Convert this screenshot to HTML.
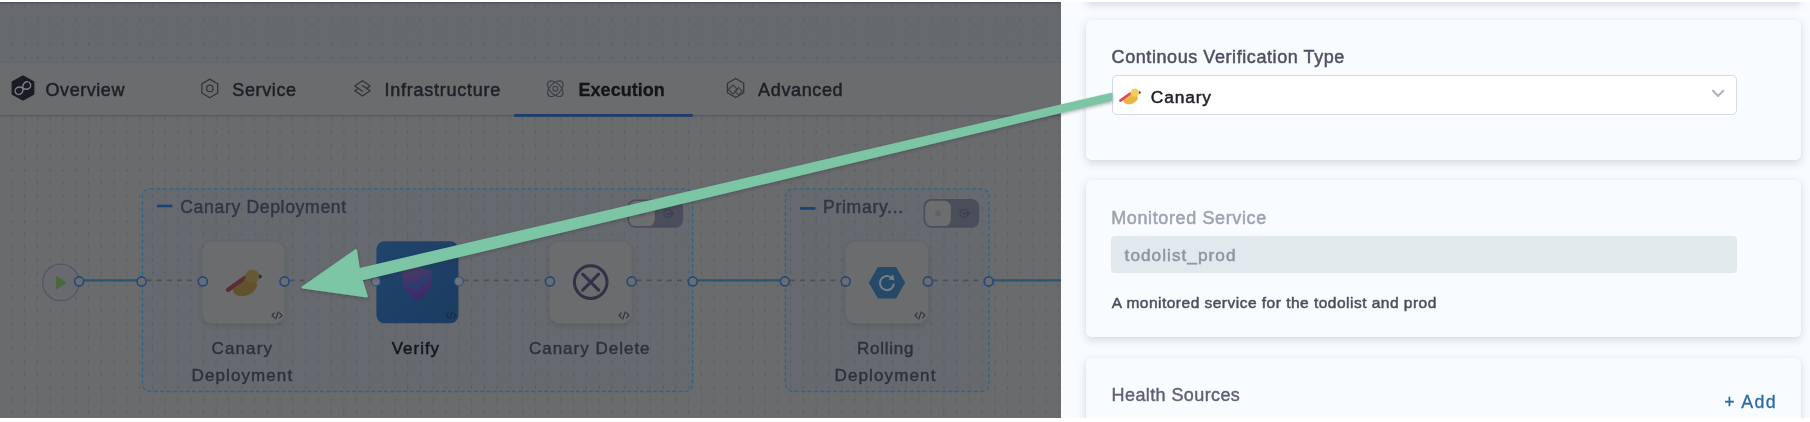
<!DOCTYPE html>
<html><head><meta charset="utf-8">
<style>
*{margin:0;padding:0;box-sizing:border-box}
html,body{width:1810px;height:422px;overflow:hidden;background:#fff;font-family:"Liberation Sans",sans-serif}
#canvas{position:absolute;left:0;top:2px;width:1061px;height:416px;background:#676a6d;overflow:hidden}
#topsh{position:absolute;left:0;top:0;width:1061px;height:2.5px;background:linear-gradient(rgba(40,44,50,.38),rgba(40,44,50,0))}
#lower{position:absolute;left:0;top:112px;width:1061px;height:304px;background:#6a6b6d}
#dots1{position:absolute;left:0;top:0;width:1061px;height:61px;
 background-image:radial-gradient(ellipse 1px 1px at center,rgba(66,70,78,.55) 0.5px,transparent 1.1px);background-size:12.77px 12.757px;background-position:5.6px -2px}
#grid{position:absolute;left:0;top:113px;width:1061px;height:303px;
 background-image:radial-gradient(ellipse 1px 1.7px at center,rgba(72,78,90,.42) 0.5px,transparent 1.2px),linear-gradient(90deg,transparent 5.75px,rgba(88,96,110,.17) 5.75px,rgba(88,96,110,.17) 7.05px,transparent 7.05px);
 background-size:12.77px 12.75px,12.77px 12.75px;background-position:5.6px -1.8px,5.6px 0}
#tabbar{position:absolute;left:0;top:60.5px;width:1061px;height:52px;background:#6b6c6e;box-shadow:0 1px 2px rgba(40,44,50,.35)}
.t{position:absolute;white-space:nowrap;line-height:1;color:#24262f}
#panel{position:absolute;left:1061px;top:2px;width:749px;height:416px;background:#f8fcff;overflow:hidden}
.card{position:absolute;left:25px;width:715px;background:#f8fcff;border-radius:5px;box-shadow:0 0 1px rgba(40,41,61,.08),0 3px 8px rgba(96,97,112,.22)}
svg{position:absolute;left:0;top:0}
</style></head><body>
<div id="canvas">
 <div id="dots1"></div>
 <div id="topsh"></div>
 <div id="lower"></div>
 <div id="grid"></div>
 <div id="tabbar"></div>
</div>
<div id="panel">
 <div class="card" style="top:-30px;height:30px"></div>
 <div class="card" style="top:18px;height:140px"></div>
 <div class="card" style="top:178px;height:157px"></div>
 <div class="card" style="top:356px;height:100px"></div>
 <div id="sel" style="position:absolute;left:51px;top:73.2px;width:625.4px;height:39.6px;background:#fff;border:1.3px solid #d7d8e6;border-radius:5px"></div>
 <div id="dis" style="position:absolute;left:50.3px;top:233.9px;width:626px;height:37.6px;background:#e2e9ed;border-radius:4px"></div>
</div>
<svg id="ov" width="1810" height="422" viewBox="0 0 1810 422">
<defs>
<filter id="ns" x="-20%" y="-20%" width="140%" height="150%"><feDropShadow dx="0" dy="2" stdDeviation="2.5" flood-color="#33373d" flood-opacity=".28"/></filter>
<filter id="as" x="-5%" y="-10%" width="110%" height="130%"><feDropShadow dx="0" dy="1.5" stdDeviation="1.5" flood-color="#2a2e33" flood-opacity=".35"/></filter>
<linearGradient id="vg" x1="0" y1="0" x2="1" y2="1"><stop offset="0" stop-color="#20446c"/><stop offset="1" stop-color="#1c3c61"/></linearGradient>
<linearGradient id="sg" x1="0.3" y1="0" x2="0.6" y2="1"><stop offset="0" stop-color="#473d6a"/><stop offset="1" stop-color="#3b2869"/></linearGradient>
</defs>
<!--MAIN-->
<rect x="514.3" y="114" width="178.4" height="2.8" fill="#1c3e69"/>
<rect x="142.4" y="188.9" width="550.2" height="202.6" rx="7.5" fill="rgba(68,107,122,0.08)" stroke="#2d6682" stroke-width="1.35" stroke-dasharray="4.1 2.3"/>
<rect x="785.4" y="188.9" width="203.6" height="202.6" rx="7.5" fill="rgba(68,107,122,0.08)" stroke="#2d6682" stroke-width="1.35" stroke-dasharray="4.1 2.3"/>
<line x1="79" y1="280.3" x2="141.6" y2="280.3" stroke="#2a556c" stroke-width="2.3"/>
<line x1="146.6" y1="280.3" x2="202.8" y2="280.3" stroke="#4e5054" stroke-width="1.8" stroke-dasharray="5 5.1"/>
<line x1="289.5" y1="280.3" x2="376.5" y2="280.3" stroke="#4e5054" stroke-width="1.8" stroke-dasharray="5 5.1"/>
<line x1="463.5" y1="280.3" x2="550" y2="280.3" stroke="#4e5054" stroke-width="1.8" stroke-dasharray="5 5.1"/>
<line x1="636.6" y1="280.3" x2="692.8" y2="280.3" stroke="#4e5054" stroke-width="1.8" stroke-dasharray="5 5.1"/>
<line x1="692.8" y1="280.3" x2="785" y2="280.3" stroke="#2a556c" stroke-width="2.3"/>
<line x1="790" y1="280.3" x2="845.7" y2="280.3" stroke="#4e5054" stroke-width="1.8" stroke-dasharray="5 5.1"/>
<line x1="933" y1="280.3" x2="988.7" y2="280.3" stroke="#4e5054" stroke-width="1.8" stroke-dasharray="5 5.1"/>
<line x1="988.7" y1="280.3" x2="1061" y2="280.3" stroke="#2a556c" stroke-width="2.3"/>
<circle cx="60.9" cy="282.4" r="18.3" fill="#686a70" stroke="#555663" stroke-width="1.3"/>
<path d="M56.4 276.4 L66.4 282.7 L56.4 289 Z" fill="#48693e" stroke="#48693e" stroke-width="0.8" stroke-linejoin="round"/>
<rect x="202.4" y="241.7" width="82.2" height="81.8" rx="10" fill="#6b6c6e" filter="url(#ns)"/>
<rect x="549.5" y="241.7" width="82.2" height="81.8" rx="10" fill="#6b6c6e" filter="url(#ns)"/>
<rect x="845.7" y="241.7" width="82.2" height="81.8" rx="10" fill="#6b6c6e" filter="url(#ns)"/>
<rect x="376.4" y="241.3" width="82" height="82" rx="8" fill="url(#vg)"/>
<circle cx="79.1" cy="281.4" r="4.5" fill="#6a6c6e" stroke="#22497a" stroke-width="1.6"/>
<circle cx="141.6" cy="281.4" r="4.5" fill="#6a6c6e" stroke="#22497a" stroke-width="1.6"/>
<circle cx="202.8" cy="281.4" r="4.5" fill="#6a6c6e" stroke="#22497a" stroke-width="1.6"/>
<circle cx="284.5" cy="281.4" r="4.5" fill="#6a6c6e" stroke="#22497a" stroke-width="1.6"/>
<circle cx="550" cy="281.4" r="4.5" fill="#6a6c6e" stroke="#22497a" stroke-width="1.6"/>
<circle cx="631.6" cy="281.4" r="4.5" fill="#6a6c6e" stroke="#22497a" stroke-width="1.6"/>
<circle cx="692.8" cy="281.4" r="4.5" fill="#6a6c6e" stroke="#22497a" stroke-width="1.6"/>
<circle cx="784.9" cy="281.4" r="4.5" fill="#6a6c6e" stroke="#22497a" stroke-width="1.6"/>
<circle cx="845.7" cy="281.4" r="4.5" fill="#6a6c6e" stroke="#22497a" stroke-width="1.6"/>
<circle cx="927.9" cy="281.4" r="4.5" fill="#6a6c6e" stroke="#22497a" stroke-width="1.6"/>
<circle cx="988.7" cy="281.4" r="4.5" fill="#6a6c6e" stroke="#22497a" stroke-width="1.6"/>
<circle cx="375.8" cy="281.4" r="4.4" fill="#707376" stroke="#2c5288" stroke-width="1.2"/>
<circle cx="458.8" cy="281.4" r="4.4" fill="#707376" stroke="#2c5288" stroke-width="1.2"/>
<g stroke="#2e3038" stroke-width="1.1" fill="none" stroke-linecap="round" stroke-linejoin="round"><path d="M274.4 312.79999999999995 L272 315.4 L274.4 318.0"/><path d="M279.6 312.79999999999995 L282 315.4 L279.6 318.0"/><path d="M278.2 311.79999999999995 L275.8 319.0"/></g>
<g stroke="#16294a" stroke-width="1.1" fill="none" stroke-linecap="round" stroke-linejoin="round"><path d="M448.4 312.79999999999995 L446 315.4 L448.4 318.0"/><path d="M453.6 312.79999999999995 L456 315.4 L453.6 318.0"/><path d="M452.2 311.79999999999995 L449.8 319.0"/></g>
<g stroke="#2e3038" stroke-width="1.1" fill="none" stroke-linecap="round" stroke-linejoin="round"><path d="M621.4 312.79999999999995 L619 315.4 L621.4 318.0"/><path d="M626.6 312.79999999999995 L629 315.4 L626.6 318.0"/><path d="M625.2 311.79999999999995 L622.8 319.0"/></g>
<g stroke="#2e3038" stroke-width="1.1" fill="none" stroke-linecap="round" stroke-linejoin="round"><path d="M917.4 312.79999999999995 L915 315.4 L917.4 318.0"/><path d="M922.6 312.79999999999995 L925 315.4 L922.6 318.0"/><path d="M921.2 311.79999999999995 L918.8 319.0"/></g>
<!--/MAIN-->
<!--ICONS-->
<polygon points="23.00,76.40 33.40,82.20 33.40,93.80 23.00,99.60 12.60,93.80 12.60,82.20" fill="#1b1c23" stroke="#1b1c23" stroke-width="2" stroke-linejoin="round"/>
<g transform="translate(22.9 88.1) rotate(-33)"><path d="M0 0 C1.6 -3.6 3.3 -3.6 5 -3.6 A3.6 3.6 0 0 1 5 3.6 C3.3 3.6 1.6 3.6 0 0 C-1.6 -3.6 -3.3 -3.6 -5 -3.6 A3.6 3.6 0 0 0 -5 3.6 C-3.3 3.6 -1.6 3.6 0 0Z" fill="none" stroke="#7f8185" stroke-width="1.4"/></g>
<polygon points="209.80,79.10 217.70,83.75 217.70,93.05 209.80,97.70 201.90,93.05 201.90,83.75" fill="none" stroke="#32353d" stroke-width="1.3" stroke-linejoin="round"/>
<circle cx="209.8" cy="88.4" r="3.2" fill="none" stroke="#32353d" stroke-width="1.3"/>
<g fill="none" stroke="#32353d" stroke-width="1.3" stroke-linejoin="round" stroke-linecap="round"><path d="M366.6 88.6 L370.2 86 L362.5 80.7 L354.8 86 L362.5 91.2"/><path d="M358.4 88.2 L354.8 90.8 L362.5 96 L370.2 90.8 L362.5 85.6"/></g>
<g fill="none" stroke="#3a3d45" stroke-width="1.1" transform="translate(555.3 88.7)"><ellipse rx="9.6" ry="5.4" transform="rotate(45)"/><ellipse rx="9.6" ry="5.4" transform="rotate(-45)"/><circle r="2.4"/></g>
<polygon points="735.60,78.50 743.70,83.25 743.70,92.75 735.60,97.50 727.50,92.75 727.50,83.25" fill="none" stroke="#32353d" stroke-width="1.3" stroke-linejoin="round"/>
<g fill="none" stroke="#3a3d45" stroke-width="1.1" stroke-linejoin="round"><path d="M728.5 89.5 L733 85 L737.5 89.5 L733 94 Z"/><path d="M734.8 91.2 L738.6 87.6 L742.3 91.2 L738.6 94.8 Z"/></g>
<rect x="157" y="204.7" width="15.2" height="2.6" fill="#194173"/>
<rect x="800" y="207.1" width="15.4" height="2.6" fill="#194173"/>
<rect x="627.4" y="199.4" width="55.7" height="28.4" rx="8" fill="#4a4d5a"/>
<rect x="629.0" y="201.1" width="25.8" height="25.0" rx="6.6" fill="#6c6d6f"/>
<rect x="639.3" y="210.8" width="5.4" height="5.4" rx="1.2" fill="#606267"/>
<g fill="none" stroke="#3c3f4e" stroke-width="1.1"><circle cx="667.8" cy="213.6" r="3.9"/><path d="M668.8 213.6 h4.6 m-1.6 -1.6 l1.6 1.6 l-1.6 1.6"/></g>
<path d="M666.6 211.8 L669.6 213.6 L666.6 215.4 Z" fill="#3c3f4e"/>
<rect x="923.5" y="199.0" width="55.7" height="28.8" rx="8" fill="#4a4d5a"/>
<rect x="925.1" y="200.7" width="25.8" height="25.4" rx="6.6" fill="#6c6d6f"/>
<rect x="935.4" y="210.6" width="5.4" height="5.4" rx="1.2" fill="#606267"/>
<g fill="none" stroke="#3c3f4e" stroke-width="1.1"><circle cx="963.9" cy="213.4" r="3.9"/><path d="M964.9 213.4 h4.6 m-1.6 -1.6 l1.6 1.6 l-1.6 1.6"/></g>
<path d="M962.7 211.6 L965.7 213.4 L962.7 215.2 Z" fill="#3c3f4e"/>
<g transform="translate(246.3 282.8) scale(1.0)"><circle cx="13.4" cy="-6.3" r="2" fill="#2a2e35"/><path d="M-18.2 7.1 L-1.1 -5.2" stroke="#5c2c34" stroke-width="4" stroke-linecap="round"/><ellipse cx="-1.4" cy="4.4" rx="12.4" ry="8.4" transform="rotate(-20 -1.4 4.4)" fill="#61512d"/><path d="M-18.2 7.1 L-4 -3.1" stroke="#5c2c34" stroke-width="4" stroke-linecap="round"/><circle cx="5.9" cy="-6.3" r="6.9" fill="#665833"/></g>
<g transform="translate(1131.4 96.3) scale(0.6)"><circle cx="13.4" cy="-6.3" r="2" fill="#2f3138"/><path d="M-18.2 7.1 L-1.1 -5.2" stroke="#dc4a5c" stroke-width="4" stroke-linecap="round"/><ellipse cx="-1.4" cy="4.4" rx="12.4" ry="8.4" transform="rotate(-20 -1.4 4.4)" fill="#ecb442"/><path d="M-18.2 7.1 L-4 -3.1" stroke="#dc4a5c" stroke-width="4" stroke-linecap="round"/><circle cx="5.9" cy="-6.3" r="6.9" fill="#f6cb5e"/></g>
<path d="M417.3 267.2 L431.4 272 C432 284 428.5 294 417.3 299.6 C406.1 294 402.6 284 403.2 272 Z" fill="url(#sg)" stroke="url(#sg)" stroke-width="1.6" stroke-linejoin="round"/>
<path d="M408.6 283.2 L416 288.8 L430.2 274.4" fill="none" stroke="#1e4475" stroke-width="3" stroke-linecap="butt" stroke-linejoin="miter"/>
<g fill="none" stroke="#2f3248" stroke-width="3"><circle cx="590.7" cy="282.1" r="16.3"/><path d="M582.7 274.1 L598.7 290.1 M598.7 274.1 L582.7 290.1" stroke-linecap="round"/></g>
<polygon points="904.00,282.80 895.50,297.52 878.50,297.52 870.00,282.80 878.50,268.08 895.50,268.08" fill="#264967" stroke="#264967" stroke-width="2" stroke-linejoin="round"/>
<path d="M893.9 283.6 A7 7 0 1 1 891.0 277.4" fill="none" stroke="#6f7c8a" stroke-width="2.1"/>
<path d="M894.4 280.2 L893.0 274.2 L888.6 279.4 Z" fill="#6f7c8a"/>
<path d="M1713 90.8 L1718.1 96 L1723.2 90.8" fill="none" stroke="#b1b2c5" stroke-width="2.1" stroke-linecap="round" stroke-linejoin="round"/>
<!--/ICONS-->
<!--ARROW-->
<path d="M302.5 287.4 L355.95 250.0 L358.9 269.1 L1111.6 93.7 L1111.6 100.0 L361.6 279.6 L366.8 296.4 Z" fill="#7bc5a5" stroke="#7bc5a5" stroke-width="2" stroke-linejoin="round" filter="url(#as)"/>
<!--/ARROW-->
<!--TEXT-->
<g font-family="Liberation Sans, sans-serif" opacity="0.995" stroke-linejoin="round">
<text id="t_ov" x="45.52" y="96.2" font-size="18" font-weight="400" fill="#1e2027" stroke="#1e2027" stroke-width="0.5" letter-spacing="0.557">Overview</text>
<text id="t_sv" x="232.32" y="96.2" font-size="18" font-weight="400" fill="#1e2027" stroke="#1e2027" stroke-width="0.5" letter-spacing="0.627">Service</text>
<text id="t_in" x="384.44" y="96.2" font-size="18" font-weight="400" fill="#1e2027" stroke="#1e2027" stroke-width="0.5" letter-spacing="0.757">Infrastructure</text>
<text id="t_ex" x="578.51" y="96.2" font-size="18" font-weight="700" fill="#14151b" stroke="#14151b" stroke-width="0.3" letter-spacing="0.041">Execution</text>
<text id="t_ad" x="758.08" y="96.2" font-size="18" font-weight="400" fill="#1e2027" stroke="#1e2027" stroke-width="0.5" letter-spacing="0.641">Advanced</text>
<text id="t_g1" x="180.21" y="212.6" font-size="17.6" font-weight="400" fill="#323646" stroke="#323646" stroke-width="0.5" letter-spacing="0.654">Canary Deployment</text>
<text id="t_g2" x="823.03" y="213.2" font-size="17.6" font-weight="400" fill="#323646" stroke="#323646" stroke-width="0.5" letter-spacing="0.688">Primary...</text>
<text id="t_n1a" x="211.62" y="353.8" font-size="17" font-weight="400" fill="#2d303a" stroke="#2d303a" stroke-width="0.4" letter-spacing="1.096">Canary</text>
<text id="t_n1b" x="191.56" y="380.8" font-size="17" font-weight="400" fill="#2d303a" stroke="#2d303a" stroke-width="0.4" letter-spacing="1.095">Deployment</text>
<text id="t_n2" x="391.65" y="353.8" font-size="17" font-weight="400" fill="#16181e" stroke="#16181e" stroke-width="0.55" letter-spacing="0.993">Verify</text>
<text id="t_n3" x="528.92" y="353.8" font-size="17" font-weight="400" fill="#2d303a" stroke="#2d303a" stroke-width="0.4" letter-spacing="1.000">Canary Delete</text>
<text id="t_n4a" x="856.96" y="353.8" font-size="17" font-weight="400" fill="#2d303a" stroke="#2d303a" stroke-width="0.4" letter-spacing="0.751">Rolling</text>
<text id="t_n4b" x="834.56" y="380.8" font-size="17" font-weight="400" fill="#2d303a" stroke="#2d303a" stroke-width="0.4" letter-spacing="1.128">Deployment</text>
<text id="t_p1" x="1111.59" y="62.9" font-size="18" font-weight="400" fill="#4f5162" stroke="#4f5162" stroke-width="0.5" letter-spacing="0.574">Continous Verification Type</text>
<text id="t_p2" x="1150.81" y="102.5" font-size="17.4" font-weight="400" fill="#22222a" stroke="#22222a" stroke-width="0.5" letter-spacing="0.828">Canary</text>
<text id="t_p3" x="1111.19" y="224.05" font-size="18" font-weight="400" fill="#9ea3ad" stroke="#9ea3ad" stroke-width="0.5" letter-spacing="0.618">Monitored Service</text>
<text id="t_p4" x="1124.57" y="260.6" font-size="17.2" font-weight="400" fill="#8d95a0" stroke="#8d95a0" stroke-width="0.5" letter-spacing="1.044">todolist_prod</text>
<text id="t_p5" x="1111.68" y="308.3" font-size="15.5" font-weight="400" fill="#4b4d5e" stroke="#4b4d5e" stroke-width="0.5" letter-spacing="0.486">A monitored service for the todolist and prod</text>
<text id="t_p6" x="1111.59" y="401.2" font-size="18" font-weight="400" fill="#5e6176" stroke="#5e6176" stroke-width="0.4" letter-spacing="0.400">Health Sources</text>
<text id="t_p7" x="1724.22" y="407.7" font-size="17.8" font-weight="400" fill="#2c69a3" stroke="#2c69a3" stroke-width="0.3" letter-spacing="1.357">+ Add</text>
</g>
<!--/TEXT-->
</svg>
</body></html>
